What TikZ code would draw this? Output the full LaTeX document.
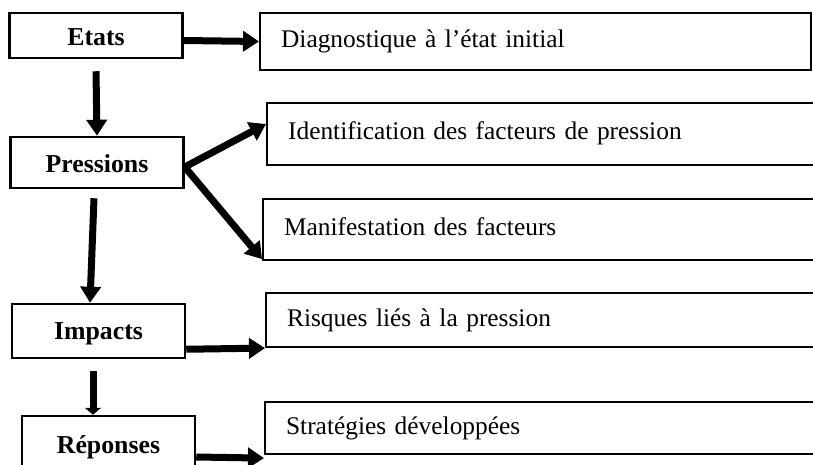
\documentclass[tikz,border=0pt]{standalone}
\usepackage{fontspec}
\setmainfont{Liberation Serif}
\usetikzlibrary{arrows.meta}
\begin{document}
\begin{tikzpicture}[x=1pt,y=-1pt,
	etape/.style={draw,line width=2.5pt,minimum width=173pt,inner sep=0pt,text depth=0pt,font=\fontsize{25.8pt}{31pt}\selectfont\bfseries},
	detail/.style={draw,line width=2.2pt,anchor=west,align=left,inner xsep=21pt,inner ysep=0pt,text height=17pt,text depth=5pt,font=\fontsize{25.4pt}{30pt}\selectfont},
	fleche/.style={line width=7pt,-{Triangle[length=16pt,width=20pt]}}]
				\useasboundingbox (0,0) rectangle (813,465);
				\clip (0,0) rectangle (813,465);
				\node[etape,minimum height=45pt,text height=21pt] (etats) at (96,35.5) {Etats};
				\node[etape,minimum height=51pt,text height=19pt] (pressions) at (97,162.5) {Pressions};
				\node[etape,minimum height=54pt,text height=16pt] (impacts) at (98.5,331) {Impacts};
				\node[etape,minimum height=54pt,text height=20pt] (reponses) at (108.5,443) {Réponses};
				
				\node[detail,text width=509pt,minimum height=57pt] (diag) at (259,41.5) {Diagnostique à l’état initial};
				\node[detail,text width=522pt,minimum height=62pt] (ident) at (266,134) {Identification des facteurs de pression};
				\node[detail,text width=526pt,minimum height=61pt] (manif) at (262,229.5) {Manifestation des facteurs};
				\node[detail,text width=523pt,minimum height=54pt] (risques) at (265,320) {Risques liés à la pression};
				\node[detail,text width=524pt,minimum height=52pt] (strat) at (264,428) {Stratégies développées};
				
				\draw[fleche] ([yshift=-5pt]etats.east) -- (diag.west);
				\draw[fleche] ([yshift=-12pt]etats.south) -- (pressions.north);
				\draw[fleche] ([yshift=-4.5pt]pressions.east) -- ([yshift=10pt]ident.west);
				\draw[fleche] ([yshift=-4.5pt]pressions.east) -- ([yshift=2pt]manif.south west);
				\draw[fleche] ([shift={(-3pt,-9pt)}]pressions.south) -- ([xshift=-8.5pt]impacts.north);
				\draw[fleche] ([yshift=10pt]impacts.south east) -- (risques.south west);
				\draw[line width=7pt,-{Triangle[length=7pt,width=16pt]}] ([shift={(-5.5pt,-12pt)}]impacts.south) -- ([xshift=-15.5pt]reponses.north);
				\draw[fleche] ([yshift=-14pt]reponses.east) -- ([yshift=-3pt]strat.south west);
			\end{tikzpicture}
\end{document}
